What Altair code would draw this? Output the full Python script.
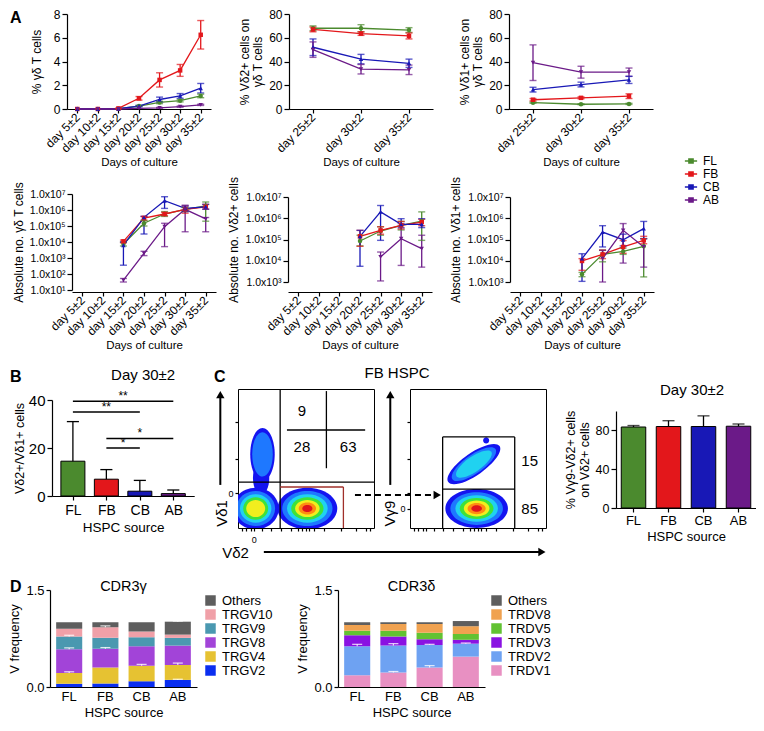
import altair as alt
import pandas as pd

FONT = "Liberation Sans"

# ----------------------------------------------------------------- data
SOURCES = ["FL", "FB", "CB", "AB"]
SRC_COLORS = ["#4b8a2e", "#e3171b", "#1818b6", "#6b1a88"]
SRC_SHAPES = ["circle", "square", "triangle-up", "triangle-down"]

DAYS_ALL = ["day 5±2", "day 10±2", "day 15±2", "day 20±2", "day 25±2", "day 30±2", "day 35±2"]
DAYS_LATE = ["day 25±2", "day 30±2", "day 35±2"]
DAYS_A4 = DAYS_ALL[2:]
DAYS_A56 = DAYS_ALL[3:]

# A1: % gamma-delta T cells (mean, sd)
A1_MEAN = {"FL": [0, 0, 0.02, 0.25, 0.55, 0.70, 1.10],
           "FB": [0, 0, 0.05, 0.90, 2.45, 3.25, 6.25],
           "CB": [0, 0, 0.02, 0.25, 0.80, 1.10, 1.75],
           "AB": [0, 0, 0.00, 0.05, 0.10, 0.20, 0.35]}
A1_SD = {"FL": [0, 0, 0, 0.05, 0.10, 0.10, 0.15],
         "FB": [0, 0, 0.02, 0.15, 0.60, 0.50, 1.20],
         "CB": [0, 0, 0, 0.05, 0.20, 0.20, 0.40],
         "AB": [0, 0, 0, 0, 0.03, 0.05, 0.05]}
# A2: % Vd2+ on gd T cells
A2_MEAN = {"FL": [68, 68, 66.5], "FB": [67, 63.5, 61.5], "CB": [52, 42, 38.5], "AB": [50, 33.5, 33]}
A2_SD = {"FL": [2, 3, 2], "FB": [2, 1.5, 2.5], "CB": [7, 4, 3.5], "AB": [6.5, 4, 4]}
# A3: % Vd1+ on gd T cells
A3_MEAN = {"FL": [5.3, 4.0, 4.3], "FB": [7.8, 9.4, 10.8], "CB": [16.3, 20.6, 24.5], "AB": [39, 31, 31]}
A3_SD = {"FL": [0.5, 0.4, 0.5], "FB": [1, 0.8, 2], "CB": [2, 2, 3], "AB": [15, 5, 3.5]}
# A4: absolute no. gd T cells, log10 (days 15..35)
A4_LOG = {"FL": [3.87, 5.17, 5.75, 6.04, 6.25], "FB": [4.04, 5.50, 5.75, 6.04, 6.20],
          "CB": [3.80, 5.54, 6.58, 6.10, 6.20], "AB": [1.62, 3.29, 4.96, 6.04, 5.44]}
A4_LO = {"FL": [3.75, 5.00, 5.60, 5.90, 5.30], "FB": [3.95, 5.35, 5.65, 5.80, 6.05],
         "CB": [2.55, 4.50, 6.10, 5.90, 6.05], "AB": [1.50, 3.15, 3.71, 4.64, 4.64]}
A4_HI = {"FL": [4.00, 5.35, 5.90, 6.15, 6.50], "FB": [4.12, 5.60, 5.85, 6.25, 6.35],
         "CB": [4.00, 5.60, 6.83, 6.25, 6.35], "AB": [1.72, 3.42, 5.17, 6.30, 5.53]}
# A5: absolute no. Vd2+ cells, log10 (days 20..35)
A5_LOG = {"FL": [4.93, 5.40, 5.67, 5.87], "FB": [5.15, 5.43, 5.67, 5.82],
          "CB": [5.15, 6.30, 5.71, 5.71], "AB": [None, 4.18, 5.04, 4.57]}
A5_LO = {"FL": [4.70, 5.20, 5.45, 4.96], "FB": [4.68, 5.25, 5.50, 5.65],
         "CB": [3.74, 4.96, 5.56, 5.56], "AB": [None, 3.05, 3.78, 3.70]}
A5_HI = {"FL": [5.20, 5.60, 5.85, 6.30], "FB": [5.43, 5.60, 5.85, 5.95],
         "CB": [5.43, 6.60, 5.98, 5.98], "AB": [None, 4.41, 5.75, 5.20]}
# A6: absolute no. Vd1+ cells, log10 (days 20..35)
A6_LOG = {"FL": [3.36, 4.30, 4.44, 4.68], "FB": [3.99, 4.30, 4.65, 4.96],
          "CB": [4.10, 5.35, 4.99, 5.51], "AB": [None, 4.10, 5.43, 4.65]}
A6_LO = {"FL": [3.25, 3.95, 4.30, 3.24], "FB": [3.55, 4.10, 4.35, 4.80],
         "CB": [3.03, 4.65, 4.70, 5.04], "AB": [None, 3.00, 3.89, 3.70]}
A6_HI = {"FL": [3.45, 4.50, 4.60, 5.04], "FB": [4.10, 4.50, 4.95, 5.15],
         "CB": [4.33, 5.65, 5.25, 5.85], "AB": [None, 4.49, 5.75, 5.04]}

# B: Vd2+/Vd1+ ratio at day 30
B_MEAN = [14.5, 7.0, 2.0, 1.0]
B_SD = [16.5, 4.0, 4.5, 1.5]
SIG_FROM = ["FL", "FL", "FB", "FB"]
SIG_TO = ["AB", "CB", "AB", "CB"]
SIG_Y = [39.5, 35, 24, 20]
SIG_TXT = ["**", "**", "*", "*"]

# C: % Vg9-Vd2+ on Vd2+ cells
C_MEAN = [83.5, 84.0, 84.0, 84.3]
C_SD = [1.5, 6.0, 11.0, 2.3]

# C: flow plots (axis units 0-100)
FL_L_POPS = [  # cx, cy, rx, ry, angle, levels
    (17, 36, 6, 12, 0, 1),
    (18, 53, 9, 19, 0, 2),
    (13, 14, 17, 15, 0, 5),
    (51, 14, 22, 15, 0, 7),
]
FL_R_POPS = [
    (47, 46, 23, 8, 325, 3),
    (56, 63, 2.2, 2.2, 0, 1),
    (49, 14, 23, 14, 0, 7),
]
FL_L_LINE_X1 = [31, 0, 36, 65]
FL_L_LINE_X2 = [31, 100, 93.5, 65]
FL_L_LINE_Y1 = [0, 33, 70.5, 43]
FL_L_LINE_Y2 = [100, 33, 70.5, 98.5]
FL_L_GATE = [31, 77.5, 0, 29.5]
FL_L_TXT = ["9", "28", "63"]
FL_L_TXT_X = [47, 47, 81]
FL_L_TXT_Y = [84, 58, 58]
FL_R_GATE = [24, 77, 0, 65.5]
FL_R_LINE = [24, 77, 28]
FL_R_TXT = ["15", "85"]
FL_R_TXT_X = [88, 88]
FL_R_TXT_Y = [48, 14]
FL_XTICKS = [3, 6, 9.6, 11.6, 17.5, 24.6, 31.8, 39, 44, 47.4, 50, 52, 56, 63, 76, 87, 94, 97]
FL_YTICKS = [25, 50, 76]

# D: CDR3 V usage (segment heights, bottom -> top)
GAMMA_GENES = ["TRGV2", "TRGV4", "TRGV8", "TRGV9", "TRGV10", "Others"]
GAMMA_COLORS = ["#0a2ef0", "#e6c232", "#a244d8", "#4a98b0", "#f0a0a8", "#5e5e5e"]
GAMMA = {"FL": [0.05, 0.165, 0.37, 0.195, 0.12, 0.10],
         "FB": [0.055, 0.245, 0.29, 0.17, 0.165, 0.075],
         "CB": [0.09, 0.24, 0.30, 0.14, 0.09, 0.14],
         "AB": [0.11, 0.23, 0.30, 0.12, 0.05, 0.20]}
GAMMA_SD = {"FL": [0, 0.02, 0.02, 0.02, 0, 0],
            "FB": [0, 0, 0.02, 0, 0.02, 0],
            "CB": [0, 0.02, 0, 0, 0, 0],
            "AB": [0.01, 0.03, 0, 0, 0, 0.01]}
DELTA_GENES = ["TRDV1", "TRDV2", "TRDV3", "TRDV5", "TRDV8", "Others"]
DELTA_COLORS = ["#e890c2", "#6ea2f2", "#8a12e2", "#62c232", "#f0a250", "#5e5e5e"]
DELTA = {"FL": [0.18, 0.45, 0.17, 0.07, 0.09, 0.04],
         "FB": [0.225, 0.415, 0.14, 0.09, 0.105, 0.025],
         "CB": [0.30, 0.35, 0.09, 0.10, 0.135, 0.025],
         "AB": [0.47, 0.20, 0.06, 0.09, 0.12, 0.08]}
DELTA_SD = {"FL": [0, 0.03, 0, 0, 0, 0],
            "FB": [0.015, 0.03, 0, 0, 0, 0],
            "CB": [0.03, 0.01, 0, 0, 0, 0],
            "AB": [0, 0.01, 0, 0, 0, 0]}

# ----------------------------------------------------------------- style
LEVEL_COLORS = ["#1414f0", "#1e78ff", "#20d2f0", "#3ee23a", "#f2ee1e", "#ff8c12", "#e0141c"]
LEVEL_FACTOR = [1.0, 0.84, 0.68, 0.54, 0.41, 0.29, 0.17]

COLOR_SCALE = alt.Scale(domain=SOURCES, range=SRC_COLORS)
SYM_PATH = "M-1,0H1M-0.34,-0.34H0.34V0.34H-0.34Z"
SRC_LEGEND = alt.Legend(
    title=None, orient="none", legendX=674, legendY=140, symbolType=SYM_PATH,
    symbolSize=150, symbolStrokeWidth=1.5, labelFontSize=12, rowPadding=0,
    padding=0, labelOffset=5, symbolOpacity=1)
COL = alt.Color("source:N", scale=COLOR_SCALE, legend=SRC_LEGEND)
ONE = pd.DataFrame({"t": [""]})


def title(text, size, offset, dy, dx=0):
    return alt.TitleParams(text, fontSize=size, offset=offset, dy=dy, dx=dx,
                           baseline="alphabetic", frame="group", anchor="middle")


def letter(ch, dx, dy):
    return alt.Chart(pd.DataFrame({"t": [ch]})).mark_text(
        fontSize=16, fontWeight="bold", align="left", baseline="alphabetic", color="black"
    ).encode(text="t:N", x=alt.value(dx), y=alt.value(dy))


def pad_chart(w, top=None, bottom=None, ch=None, cx=0, cy=0):
    """Empty slot of a row; optionally fixes the row's vertical extent and holds a panel letter."""
    layers = []
    if top is not None:
        layers.append(alt.Chart(ONE).mark_rule(opacity=0).encode(
            x=alt.value(0), y=alt.value(-top), y2=alt.value(bottom)))
    if ch:
        layers.append(letter(ch, cx, cy))
    if not layers:
        layers.append(alt.Chart(ONE).mark_rule(opacity=0).encode(
            x=alt.value(0), y=alt.value(0), y2=alt.value(1)))
    return alt.layer(*layers).properties(width=w, height=10)


def frame_sd(days, mean, sd):
    rows = []
    for s in SOURCES:
        for i, d in enumerate(days):
            m = mean[s][i]
            rows.append({"day": d, "di": i, "source": s, "v": m, "lo": m - sd[s][i], "hi": m + sd[s][i]})
    return pd.DataFrame(rows)


def frame_rng(days, mean, lo, hi):
    rows = []
    for s in SOURCES:
        for i, d in enumerate(days):
            if mean[s][i] is None:
                continue
            rows.append({"day": d, "di": i, "source": s, "v": mean[s][i], "lo": lo[s][i], "hi": hi[s][i]})
    return pd.DataFrame(rows)


def line_panel(df, days, ydom, yvals, ytitle, width, height, yrange=None, label_expr=None,
               ylab_size=12, title_pad=6):
    xs = alt.Scale(type="point", domain=days, padding=0.5)
    xa = alt.Axis(title="Days of culture", labelAngle=-45, labelAlign="right", labelBaseline="middle",
                  labelFontSize=12, titleFontSize=11.5, labelPadding=2, titlePadding=2, tickSize=4)
    skw = dict(domain=ydom, nice=False, zero=False)
    if yrange is not None:
        skw["range"] = yrange
    ys = alt.Scale(**skw)
    akw = dict(values=yvals, title=ytitle, labelFontSize=ylab_size, titleFontSize=12,
               titlePadding=title_pad, titleLineHeight=13)
    if label_expr:
        akw["labelExpr"] = label_expr
    ya = alt.Axis(**akw)
    X = alt.X("day:N", scale=xs, axis=xa, sort=days)

    def Y(f):
        return alt.Y(f, scale=ys, axis=ya)

    base = alt.Chart(df)
    edf = alt.Chart(df[df.hi > df.lo])
    layers = [
        base.mark_line(strokeWidth=1.3).encode(x=X, y=Y("v:Q"), color=COL, order="di:Q"),
        edf.mark_rule(strokeWidth=1.3).encode(x=X, y=Y("lo:Q"), y2="hi:Q", color=COL),
        edf.mark_tick(size=7, thickness=1.4).encode(x=X, y=Y("lo:Q"), color=COL),
        edf.mark_tick(size=7, thickness=1.4).encode(x=X, y=Y("hi:Q"), color=COL),
    ]
    for s, shp in zip(SOURCES, SRC_SHAPES):
        layers.append(alt.Chart(df[df.source == s]).mark_point(
            filled=True, size=20, opacity=1, shape=shp).encode(x=X, y=Y("v:Q"), color=COL))
    return alt.layer(*layers).properties(width=width, height=height)


LOG_LABEL = "'1.0x10' + ['⁰','¹','²','³','⁴','⁵','⁶','⁷'][datum.value]"

# ----------------------------------------------------------------- row 1
a1 = line_panel(frame_sd(DAYS_ALL, A1_MEAN, A1_SD), DAYS_ALL, [0, 8], [0, 2, 4, 6, 8],
                "% γδ T cells", 144, 95, title_pad=10)
a2 = line_panel(frame_sd(DAYS_LATE, A2_MEAN, A2_SD), DAYS_LATE, [0, 80], [0, 20, 40, 60, 80],
                ["% Vδ2+ cells on", "γδ T cells"], 144, 95, title_pad=4)
a3 = line_panel(frame_sd(DAYS_LATE, A3_MEAN, A3_SD), DAYS_LATE, [0, 80], [0, 20, 40, 60, 80],
                ["% Vδ1+ cells on", "γδ T cells"], 144, 95, title_pad=4)
row1 = alt.hconcat(pad_chart(57, 6, 158, "A", 0, 8.5), a1, pad_chart(78), a2, pad_chart(76), a3,
                   spacing=0, bounds="flush")

# ----------------------------------------------------------------- row 2
a4 = line_panel(frame_rng(DAYS_A4, A4_LOG, A4_LO, A4_HI), DAYS_ALL, [1, 7], [1, 2, 3, 4, 5, 6, 7],
                "Absolute no. γδ T cells", 144, 98, yrange=[96, 0], label_expr=LOG_LABEL,
                ylab_size=10.5, title_pad=3)
a5 = line_panel(frame_rng(DAYS_A56, A5_LOG, A5_LO, A5_HI), DAYS_ALL, [3, 7], [3, 4, 5, 6, 7],
                "Absolute no. Vδ2+ cells", 144, 98, yrange=[88, 3], label_expr=LOG_LABEL,
                ylab_size=10.5, title_pad=4)
a6 = line_panel(frame_rng(DAYS_A56, A6_LOG, A6_LO, A6_HI), DAYS_ALL, [3, 7], [3, 4, 5, 6, 7],
                "Absolute no. Vδ1+ cells", 144, 98, yrange=[88, 3], label_expr=LOG_LABEL,
                ylab_size=10.5, title_pad=4)
row2 = alt.hconcat(pad_chart(62, 22, 160), a4, pad_chart(72), a5, pad_chart(78), a6,
                   spacing=0, bounds="flush")

# ----------------------------------------------------------------- row 3: B
B_STEP, B_PI, B_PO = 36.0, 0.33, 0.14
b_d0 = -(B_PO + (1 - B_PI) / 2)
b_d1 = b_d0 + len(SOURCES) - B_PI + 2 * B_PO
B_W = B_STEP * (len(SOURCES) - B_PI + 2 * B_PO)
B_H = 107
bdf = pd.DataFrame({"source": SOURCES, "i": list(range(len(SOURCES))), "m": B_MEAN,
                    "top": [m + s for m, s in zip(B_MEAN, B_SD)]})
cap_half = 6.5 / B_STEP
bdf["cl"] = bdf["i"] - cap_half
bdf["cr"] = bdf["i"] + cap_half
sdf = pd.DataFrame({"x1": [SOURCES.index(s) for s in SIG_FROM], "x2": [SOURCES.index(s) for s in SIG_TO],
                    "y": SIG_Y, "txt": SIG_TXT})
sdf["xm"] = (sdf["x1"] + sdf["x2"]) / 2
bxs = alt.Scale(domain=[b_d0, b_d1], nice=False, zero=False)
bxa = alt.Axis(values=[0, 1, 2, 3], labelExpr="['FL','FB','CB','AB'][datum.value]", title="HSPC source",
               labelFontSize=14, titleFontSize=13.5, tickSize=4, labelPadding=3, titlePadding=3)
bys = alt.Scale(domain=[0, 40], range=[B_H, 11], nice=False)
bya = alt.Axis(values=[0, 10, 20, 30, 40], title="Vδ2+/Vδ1+ cells", labelFontSize=15,
               titleFontSize=12.5, titlePadding=2)
BX = alt.X("i:Q", scale=bxs, axis=bxa)
b_bar = alt.Chart(bdf).mark_bar(size=24, stroke="black", strokeWidth=1).encode(
    x=BX, y=alt.Y("m:Q", scale=bys, axis=bya), y2=alt.datum(0), color=COL)
b_err = alt.Chart(bdf).mark_rule(color="black", strokeWidth=1.3).encode(x=BX, y="m:Q", y2="top:Q")
b_cap = alt.Chart(bdf).mark_rule(color="black", strokeWidth=1.3).encode(x="cl:Q", x2="cr:Q", y="top:Q")
b_sig = alt.Chart(sdf).mark_rule(color="black", strokeWidth=1.5).encode(x="x1:Q", x2="x2:Q", y="y:Q")
b_star = alt.Chart(sdf).mark_text(fontSize=12, dy=-5, color="black").encode(x="xm:Q", y="y:Q", text="txt:N")
b_chart = alt.layer(b_bar, b_err, b_cap, b_sig, b_star).properties(
    width=B_W, height=B_H, title=title("Day 30±2", 15, 9, 15, dx=20))

# ----------------------------------------------------------------- row 3: flow plots
W_FLOW, H_FLOW, GAP_FLOW = 136, 139, 36
PXX, PXY = W_FLOW / 100.0, H_FLOW / 100.0
FXS = alt.Scale(domain=[0, 100], nice=False, zero=False)
FYS = alt.Scale(domain=[0, 100], nice=False, zero=False)


def flow_axes(xzero, yzero, xtitle, ytitle, ytitle_x):
    xa = alt.Axis(values=FL_XTICKS, labelExpr=f"datum.value == {xzero} ? '0' : ''", tickSize=3,
                  labelFontSize=9, labelPadding=4, domain=False, title=xtitle, titleFontSize=15,
                  titleX=-3, titleY=24, titleAlign="center", titleBaseline="middle")
    ya = alt.Axis(values=FL_YTICKS + [yzero], labelExpr=f"datum.value == {yzero} ? '0' : ''", tickSize=3,
                  labelFontSize=9, labelPadding=2, domain=False, title=ytitle, titleFontSize=15,
                  titleX=ytitle_x, titleY=124, titleAlign="center", titleBaseline="middle")
    return alt.X("x:Q", scale=FXS, axis=xa), alt.Y("y:Q", scale=FYS, axis=ya)


def blob(X, Y, cx, cy, rx, ry, ang, nlev):
    rxp, ryp = rx * PXX, ry * PXY
    a = ryp / rxp
    path = f"M-1,0A1,{a:.3f},0,1,1,1,0A1,{a:.3f},0,1,1,-1,0Z"
    rows = [{"x": cx, "y": cy, "lev": k, "sz": (2 * rxp * LEVEL_FACTOR[k]) ** 2} for k in range(nlev)]
    return alt.Chart(pd.DataFrame(rows)).mark_point(
        filled=True, opacity=1, strokeWidth=0, clip=True, shape=path, angle=ang
    ).encode(x=X, y=Y, size=alt.Size("sz:Q", scale=None),
             fill=alt.Fill("lev:O", scale=alt.Scale(domain=list(range(7)), range=LEVEL_COLORS), legend=None),
             order=alt.Order("lev:Q"))


def rules(X, x1, x2, y1, y2, color="black", width=1.5, dash=None):
    df = pd.DataFrame({"x": x1, "x2": x2, "y": y1, "y2": y2})
    kw = dict(color=color, strokeWidth=width)
    if dash:
        kw["strokeDash"] = dash
    return alt.Chart(df).mark_rule(**kw).encode(x=X, x2="x2:Q", y=alt.Y("y:Q", scale=FYS), y2="y2:Q")


def heads(X, xs, ys, shape):
    return alt.Chart(pd.DataFrame({"x": xs, "y": ys})).mark_point(
        filled=True, color="black", opacity=1, size=70, shape=shape).encode(x=X, y=alt.Y("y:Q", scale=FYS))


def texts(X, labels, xs, ys):
    return alt.Chart(pd.DataFrame({"x": xs, "y": ys, "t": labels})).mark_text(
        fontSize=15, color="black").encode(x=X, y=alt.Y("y:Q", scale=FYS), text="t:N")


# left flow plot
LX, LY = flow_axes(11.6, 25, "Vδ2", "Vδ1", -17)
right_edge = (W_FLOW + GAP_FLOW + W_FLOW) / PXX
right_gate = (W_FLOW + GAP_FLOW + FL_R_GATE[0] * PXX) / PXX
fl_layers = [blob(LX, LY, *p) for p in FL_L_POPS]
fl_layers += [
    rules(LX, FL_L_LINE_X1, FL_L_LINE_X2, FL_L_LINE_Y1, FL_L_LINE_Y2, width=1.3),
    rules(LX, [FL_L_GATE[0], FL_L_GATE[1]], [FL_L_GATE[1], FL_L_GATE[1]],
          [FL_L_GATE[3], FL_L_GATE[2]], [FL_L_GATE[3], FL_L_GATE[3]], color="#a0302a", width=1.3),
    texts(LX, FL_L_TXT, FL_L_TXT_X, FL_L_TXT_Y),
    rules(LX, [-13], [-13], [31], [95], width=2),
    heads(LX, [-13], [96], "triangle-up"),
    rules(LX, [19], [right_edge - 4], [-17.3], [-17.3], width=2),
    heads(LX, [right_edge - 3], [-17.3], "triangle-right"),
    rules(LX, [86], [right_gate - 5], [23.7], [23.7], width=2, dash=[6, 4]),
    heads(LX, [right_gate - 4], [23.7], "triangle-right"),
]
flow_l = alt.layer(*fl_layers).properties(
    width=W_FLOW, height=H_FLOW, view=alt.ViewBackground(stroke="black", strokeWidth=1),
    title=title("FB HSPC", 15, 10, 15, dx=91))

# right flow plot
RX, RY = flow_axes(11, 14, "", "Vγ9", -21)
fr_layers = [blob(RX, RY, *p) for p in FL_R_POPS]
fr_layers += [
    rules(RX, [FL_R_GATE[0], FL_R_GATE[0], FL_R_GATE[1], FL_R_LINE[0]],
          [FL_R_GATE[1], FL_R_GATE[0], FL_R_GATE[1], FL_R_LINE[1]],
          [FL_R_GATE[3], FL_R_GATE[2], FL_R_GATE[2], FL_R_LINE[2]],
          [FL_R_GATE[3], FL_R_GATE[3], FL_R_GATE[3], FL_R_LINE[2]], width=1.3),
    texts(RX, FL_R_TXT, FL_R_TXT_X, FL_R_TXT_Y),
    rules(RX, [-14.5], [-14.5], [31], [95], width=2),
    heads(RX, [-14.5], [96], "triangle-up"),
]
flow_r = alt.layer(*fr_layers).properties(
    width=W_FLOW, height=H_FLOW, view=alt.ViewBackground(stroke="black", strokeWidth=1))

# ----------------------------------------------------------------- row 3: C bars
C_H = 119
cdf = pd.DataFrame({"source": SOURCES, "m": C_MEAN, "top": [m + s for m, s in zip(C_MEAN, C_SD)]})
CXS = alt.Scale(domain=SOURCES, paddingInner=0.3, paddingOuter=0.15)
CX = alt.X("source:N", sort=SOURCES, scale=CXS,
           axis=alt.Axis(title="HSPC source", labelAngle=0, labelFontSize=13, titleFontSize=13,
                         tickSize=4, labelPadding=2, titlePadding=3))
cys = alt.Scale(domain=[0, 100], range=[C_H, 22], nice=False)
cya = alt.Axis(values=[0, 20, 40, 60, 80, 100], title=["% Vγ9-Vδ2+ cells", "on Vδ2+ cells"],
               labelFontSize=12.5, titleFontSize=12.5, titlePadding=4, titleLineHeight=14)
c_bar = alt.Chart(cdf).mark_bar(stroke="black", strokeWidth=1).encode(
    x=CX, y=alt.Y("m:Q", scale=cys, axis=cya), color=COL)
c_err = alt.Chart(cdf).mark_rule(color="black", strokeWidth=1.3).encode(x=CX, y="m:Q", y2="top:Q")
c_cap = alt.Chart(cdf).mark_tick(color="black", size=12, thickness=1.4).encode(x=CX, y="top:Q")
c_chart = alt.layer(c_bar, c_err, c_cap).properties(
    width=140, height=C_H, title=title("Day 30±2", 15, 0, 21, dx=6))

row3 = alt.hconcat(pad_chart(42, 35, 172, "B", 0, -7), b_chart, pad_chart(43, ch="C", cx=19, cy=-7),
                   flow_l, pad_chart(GAP_FLOW), flow_r, pad_chart(70), c_chart,
                   spacing=0, bounds="flush")


# ----------------------------------------------------------------- row 4: D
def stack_panel(genes, colors, values, sds, ttl, legend_x):
    rows = []
    for s in SOURCES:
        cum = 0.0
        for k, g in enumerate(genes):
            v = values[s][k]
            cum += v
            rows.append({"source": s, "gene": g, "k": k, "v": v, "top": cum, "hi": cum + sds[s][k],
                         "sd": sds[s][k]})
    df = pd.DataFrame(rows)
    X = alt.X("source:N", sort=SOURCES, scale=alt.Scale(domain=SOURCES, paddingInner=0.28, paddingOuter=0.17),
              axis=alt.Axis(title="HSPC source", labelAngle=0, labelFontSize=13, titleFontSize=13,
                            ticks=False, labelPadding=3, titlePadding=3))
    ys = alt.Scale(domain=[0, 1.5], nice=False)
    ya = alt.Axis(values=[0, 0.5, 1.0, 1.5], format=".1f", title="V frequency", labelFontSize=13,
                  titleFontSize=13, titlePadding=4, tickSize=4)
    leg = alt.Legend(title=None, orient="none", legendX=legend_x, legendY=4, symbolType="square",
                     symbolSize=110, symbolStrokeWidth=0, labelFontSize=13, rowPadding=-1.5,
                     padding=0, labelOffset=5)
    bars = alt.Chart(df).mark_bar().encode(
        x=X, y=alt.Y("v:Q", stack="zero", scale=ys, axis=ya),
        fill=alt.Fill("gene:N", scale=alt.Scale(domain=genes[::-1], range=colors[::-1]), legend=leg),
        order=alt.Order("k:Q"))
    edf = df[df.sd > 0]
    err = alt.Chart(edf).mark_rule(color="white", opacity=0.8, strokeWidth=1.2).encode(
        x=X, y=alt.Y("top:Q", scale=ys), y2="hi:Q")
    cap = alt.Chart(edf).mark_tick(color="white", opacity=0.8, size=10, thickness=1.2).encode(
        x=X, y=alt.Y("hi:Q", scale=ys))
    return alt.layer(bars, err, cap).properties(width=147, height=97, title=title(ttl, 14.5, 0, 21))


d_left = stack_panel(GAMMA_GENES, GAMMA_COLORS, GAMMA, GAMMA_SD, "CDR3γ", 154)
d_right = stack_panel(DELTA_GENES, DELTA_COLORS, DELTA, DELTA_SD, "CDR3δ", 152)
row4 = alt.hconcat(pad_chart(40, 29, 131, "D", 0, 2), d_left, pad_chart(141), d_right,
                   spacing=0, bounds="flush").resolve_scale(
    fill="independent").resolve_legend(fill="independent")

chart = alt.vconcat(row1, row2, row3, row4, spacing=0, padding=0).resolve_scale(
    fill="independent").resolve_legend(fill="independent")

chart = chart.configure(font=FONT).configure_view(stroke=None).configure_axis(
    grid=False, domainColor="black", tickColor="black", labelColor="black", titleColor="black",
    labelFont=FONT, titleFont=FONT, titleFontWeight="normal", domainWidth=1.2, tickWidth=1.2
).configure_title(font=FONT, fontWeight="normal", color="black").configure_legend(
    labelFont=FONT, labelColor="black")

chart.save("out.html", embed_options={"renderer": "svg", "actions": False})
